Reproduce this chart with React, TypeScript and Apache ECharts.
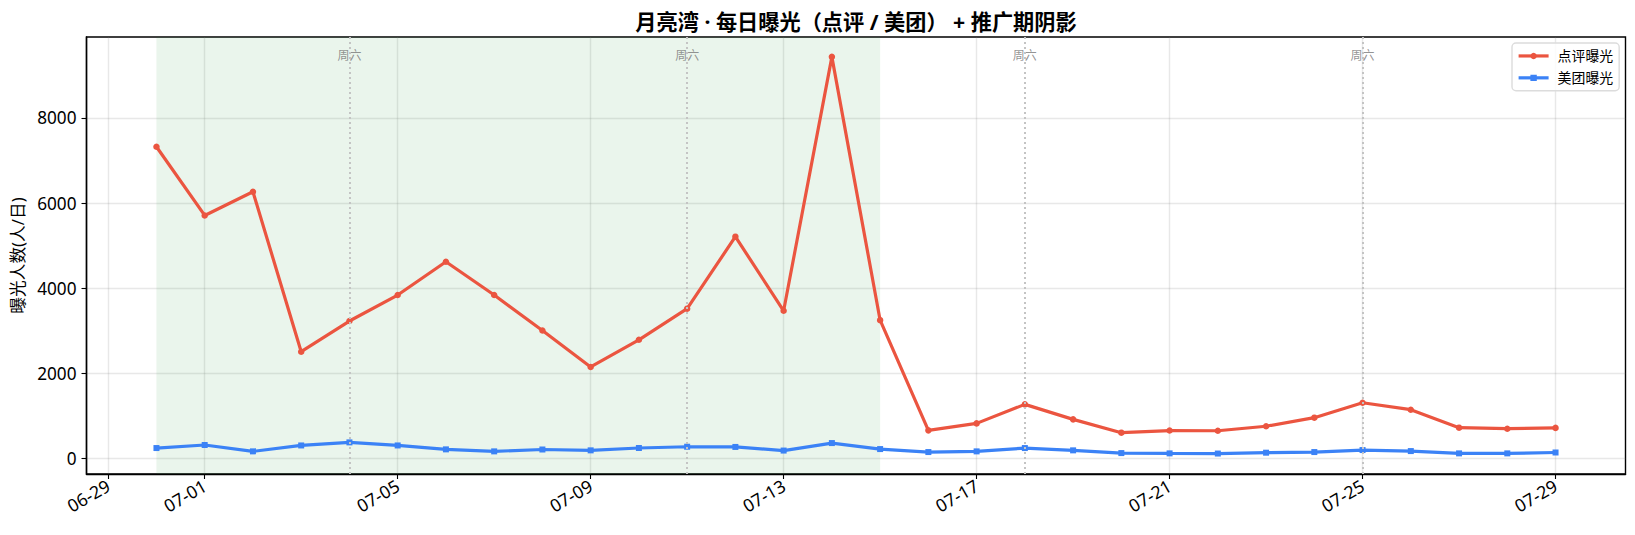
import { useEffect, useRef } from 'react';
import * as echarts from 'echarts';

const FONT = '"Noto Sans", "Noto Sans CJK SC", sans-serif';

const dates = [
  '2026-06-30', '2026-07-01', '2026-07-02', '2026-07-03', '2026-07-04', '2026-07-05',
  '2026-07-06', '2026-07-07', '2026-07-08', '2026-07-09', '2026-07-10', '2026-07-11',
  '2026-07-12', '2026-07-13', '2026-07-14', '2026-07-15', '2026-07-16', '2026-07-17',
  '2026-07-18', '2026-07-19', '2026-07-20', '2026-07-21', '2026-07-22', '2026-07-23',
  '2026-07-24', '2026-07-25', '2026-07-26', '2026-07-27', '2026-07-28', '2026-07-29',
];
const dianping = [
  7320, 5708, 6264, 2510, 3230, 3840, 4620, 3840, 3008, 2152,
  2790, 3520, 5210, 3470, 9430, 3250, 664, 828, 1274, 922,
  610, 660, 655, 760, 962, 1313, 1149, 727, 703, 722,
];
const meituan = [
  249, 320, 171, 310, 382, 310, 218, 171, 215, 195,
  250, 280, 275, 190, 366, 225, 155, 171, 249, 195,
  131, 124, 120, 140, 155, 202, 178, 124, 124, 145,
];
const saturdays = ['2026-07-04', '2026-07-11', '2026-07-18', '2026-07-25'];
const xTicks = [
  '2026-06-29', '2026-07-01', '2026-07-05', '2026-07-09', '2026-07-13',
  '2026-07-17', '2026-07-21', '2026-07-25', '2026-07-29',
];
const yTicks = [0, 2000, 4000, 6000, 8000];
const promoStart = '2026-06-30';
const promoEnd = '2026-07-15';
const saturdayLabelY = 9462;

// x axis is a value axis in days since 06-29: time axes choke on customValues
const dayNo = (d: string) =>
  Math.round((Date.UTC(+d.slice(0, 4), +d.slice(5, 7) - 1, +d.slice(8, 10)) - Date.UTC(2026, 5, 29)) / 86400000);
const dayLabel = (n: number) => xTicks.find((d) => dayNo(d) === n)?.slice(5) ?? '';

function buildOption(): echarts.EChartsOption {
  const lineBase = {
    type: 'line' as const,
    showSymbol: true,
    symbol: 'circle',
    symbolSize: 6.5,
    lineStyle: { width: 3.2 },
    emphasis: { disabled: true },
  };

  return {
    animation: false,
    backgroundColor: '#fff',
    textStyle: { fontFamily: FONT },
    title: {
      text: '月亮湾 · 每日曝光（点评 / 美团） + 推广期阴影',
      left: 851,
      top: 6,
      textAlign: 'center',
      textStyle: { fontFamily: FONT, fontSize: 21.2, fontWeight: 'bold', color: '#000' },
    },
    legend: {
      left: 1512,
      top: 43,
      orient: 'vertical',
      data: ['点评曝光', '美团曝光'],
      itemWidth: 30,
      itemHeight: 8,
      itemGap: 8,
      padding: [6, 6, 6, 5],
      backgroundColor: 'rgba(255,255,255,0.8)',
      borderColor: '#dcdcdc',
      borderWidth: 1.4,
      borderRadius: 4,
      lineStyle: { width: 3.2 },
      textStyle: { fontFamily: FONT, fontSize: 13.9, color: '#000', padding: [0, 0, 0, 4] },
    },
    grid: {
      left: 86.5,
      right: 9.5,
      top: 37,
      bottom: 61,
      show: true,
      borderColor: '#000',
      borderWidth: 1.4,
      outerBoundsMode: 'none',
    },
    xAxis: {
      type: 'value',
      min: dayNo(promoStart) - 1.45,
      max: dayNo('2026-07-29') + 1.45,
      axisLine: { onZero: false, lineStyle: { color: '#000', width: 1.4 } },
      axisTick: { length: 5, lineStyle: { color: '#000', width: 1.1 }, customValues: xTicks.map(dayNo) },
      axisLabel: {
        customValues: xTicks.map(dayNo),
        rotate: 30,
        margin: 10,
        fontFamily: FONT,
        fontSize: 17.6,
        color: '#000',
        hideOverlap: false,
        formatter: (v: number) => dayLabel(v),
      },
      splitLine: { show: true, lineStyle: { color: 'rgba(128,128,128,0.18)', width: 1.4 } },
    },
    yAxis: {
      type: 'value',
      min: -360,
      max: 9896,
      name: '曝光人数(人/日)',
      nameLocation: 'middle',
      nameGap: 60,
      nameTextStyle: { fontFamily: FONT, fontSize: 16.7, color: '#000' },
      axisLine: { show: true, onZero: false, lineStyle: { color: '#000', width: 1.4 } },
      axisTick: { show: true, length: 5, lineStyle: { color: '#000', width: 1.1 }, customValues: yTicks },
      axisLabel: {
        customValues: yTicks,
        margin: 10,
        fontFamily: FONT,
        fontSize: 17.2,
        color: '#000',
        formatter: (v: number) => String(v),
      },
      splitLine: { show: true, lineStyle: { color: 'rgba(128,128,128,0.18)', width: 1.4 } },
    },
    series: [
      {
        ...lineBase,
        name: '点评曝光',
        color: '#eb5540',
        data: dates.map((d, i) => [dayNo(d), dianping[i]]),
        markArea: {
          silent: true,
          itemStyle: { color: 'rgba(46,160,67,0.1)' },
          data: [[{ xAxis: dayNo(promoStart) }, { xAxis: dayNo(promoEnd) }]],
        },
        markLine: {
          silent: true,
          symbol: 'none',
          label: { show: false },
          lineStyle: { color: '#c4c4c4', width: 2, type: [2, 3], opacity: 1 },
          data: saturdays.map((d) => ({ xAxis: dayNo(d) })),
        },
        z: 3,
      },
      {
        ...lineBase,
        name: '美团曝光',
        color: '#3b82f6',
        symbol: 'rect',
        symbolSize: 6,
        data: dates.map((d, i) => [dayNo(d), meituan[i]]),
        z: 4,
      },
      {
        type: 'scatter',
        name: '周六',
        symbolSize: 0,
        silent: true,
        data: saturdays.map((d) => [dayNo(d), saturdayLabelY]),
        label: {
          show: true,
          position: 'inside',
          formatter: '周六',
          fontFamily: FONT,
          fontSize: 12,
          color: '#777',
        },
        z: 2,
      },
    ],
  };
}

export default function App() {
  const ref = useRef<HTMLDivElement | null>(null);

  useEffect(() => {
    if (!ref.current) return;
    const chart = echarts.init(ref.current, undefined, { renderer: 'svg' });
    chart.setOption(buildOption());
    return () => chart.dispose();
  }, []);

  return <div ref={ref} style={{ position: 'absolute', left: 0, top: 0, width: 1635, height: 535 }} />;
}
